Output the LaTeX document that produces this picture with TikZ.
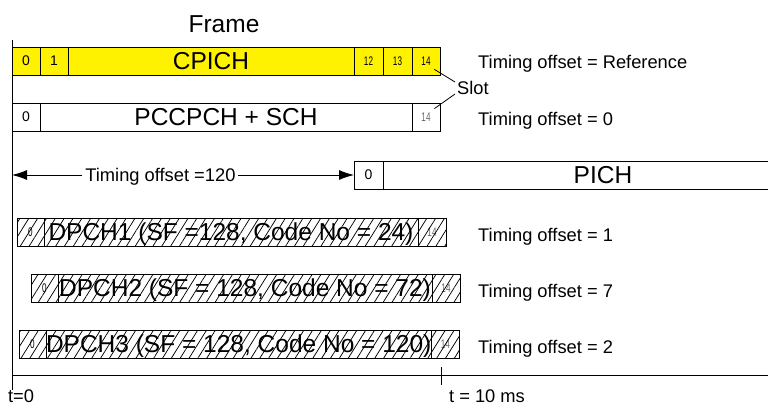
\documentclass[tikz,border=0pt]{standalone}
\usepackage{fontspec}
\setmainfont{Liberation Sans}
\usepackage{graphicx}
\usetikzlibrary{arrows.meta,calc,patterns.meta,positioning}

\tikzset{
  cell/.style={draw,line width=0.9pt,minimum height=28pt,inner sep=0pt,outer sep=0pt,
    text depth=0pt,font=\fontsize{24.5}{24.5}\selectfont},
  num/.style={cell,minimum width=28pt,font=\fontsize{14}{14}\selectfont},
  smallnum/.style={cell,minimum width=28pt,font=\fontsize{12.5}{12.5}\selectfont},
  offsettext/.style={inner sep=2pt,font=\fontsize{18.3}{18.3}\selectfont},
  hatch/.style={pattern={Lines[angle=58,distance=7.5pt,line width=0.75pt]}},
}
\newcommand{\narrow}[1]{\scalebox{0.65}[1]{#1}}

\begin{document}
\begin{tikzpicture}[x=1pt,y=-1pt]
  \useasboundingbox (0,0) rectangle (768,406);
  \clip (0,0) rectangle (768,406);

  \node[font=\fontsize{24.5}{24.5}\selectfont,anchor=base] (frame) at (224,33) {Frame};

  % time axis
  \coordinate (top) at (12,40);
  \coordinate (bottom) at (12,390);
  \coordinate (axisl) at (12,375);
  \coordinate (axisr) at (768,375);
  \coordinate (tenms) at (441,375);
  \draw[line width=0.9pt] (top) -- (bottom);
  \draw[line width=0.9pt] (axisl) -- (axisr);
  \draw[line width=0.9pt] ($(tenms)+(0,-8)$) -- ($(tenms)+(0,10)$);
  \node[offsettext,anchor=base] (t0) at (21,402) {t=0};
  \node[offsettext,anchor=base] (t10) at (487,402) {t = 10 ms};

  % CPICH
  \node[num,fill=yellow,anchor=north west] (cp0) at (12,47) {0};
  \node[num,fill=yellow,right=0pt of cp0] (cp1) {1};
  \node[cell,fill=yellow,minimum width=286pt,right=0pt of cp1] (cp) {CPICH};
  \node[smallnum,fill=yellow,minimum width=29pt,right=0pt of cp] (cp12) {\narrow{12}};
  \node[smallnum,fill=yellow,minimum width=29pt,right=0pt of cp12] (cp13) {\narrow{13}};
  \node[smallnum,fill=yellow,right=0pt of cp13] (cp14) {\narrow{14}};
  \node[offsettext,anchor=base west] (offcp) at (476,69) {Timing offset = Reference};

  % PCCPCH + SCH
  \node[num,anchor=north west] (pc0) at (12,103) {0};
  \node[cell,minimum width=372pt,right=0pt of pc0] (pc) {PCCPCH + SCH};
  \node[smallnum,text=black!60,right=0pt of pc] (pc14) {\narrow{14}};
  \node[offsettext,anchor=base west] (offpc) at (476,126) {Timing offset = 0};

  % slot label
  \node[offsettext,anchor=west] (slot) at (455,88) {Slot};
  \draw[line width=0.8pt] ($(cp14.center)!0.6!(cp14.south east)$) -- ($(slot.west)+(0,-6)$);
  \draw[line width=0.8pt] ($(pc14.center)!0.6!(pc14.north east)$) -- ($(slot.west)+(0,6)$);

  % PICH
  \node[num,minimum width=29pt,anchor=north west] (pi0) at (354,161) {0};
  \node[cell,minimum width=440pt,right=0pt of pi0] (pi) {PICH};
  \draw[line width=0.9pt,{Latex[length=15pt,width=10pt]}-{Latex[length=15pt,width=10pt]}]
    (pi0.west -| top) -- node[pos=0.434,fill=white,offsettext,inner sep=3pt,text depth=0pt] (offpi) {Timing offset =120} (pi0.west);

  % DPCH
  \foreach \i/\x/\y/\sf/\code/\off in {1/17/218/{SF =128}/24/1,
                                       2/31/274/{SF = 128}/72/7,
                                       3/19/330/{SF = 128}/120/2} {
    \node[smallnum,minimum width=27pt,anchor=north west] (dp\i-0) at (\x,\y) {\narrow{0}};
    \node[cell,minimum width=374pt,right=0pt of dp\i-0] (dp\i) {DPCH\i{} (\sf, Code No = \code)};
    \node[smallnum,text=black!60,right=0pt of dp\i] (dp\i-14) {\narrow{14}};
    \path[hatch] (dp\i-0.north west) rectangle (dp\i-14.south east);
    \node[offsettext,anchor=base west] (off\i) at (476,\y+23) {Timing offset = \off};
  }
\end{tikzpicture}
\end{document}
